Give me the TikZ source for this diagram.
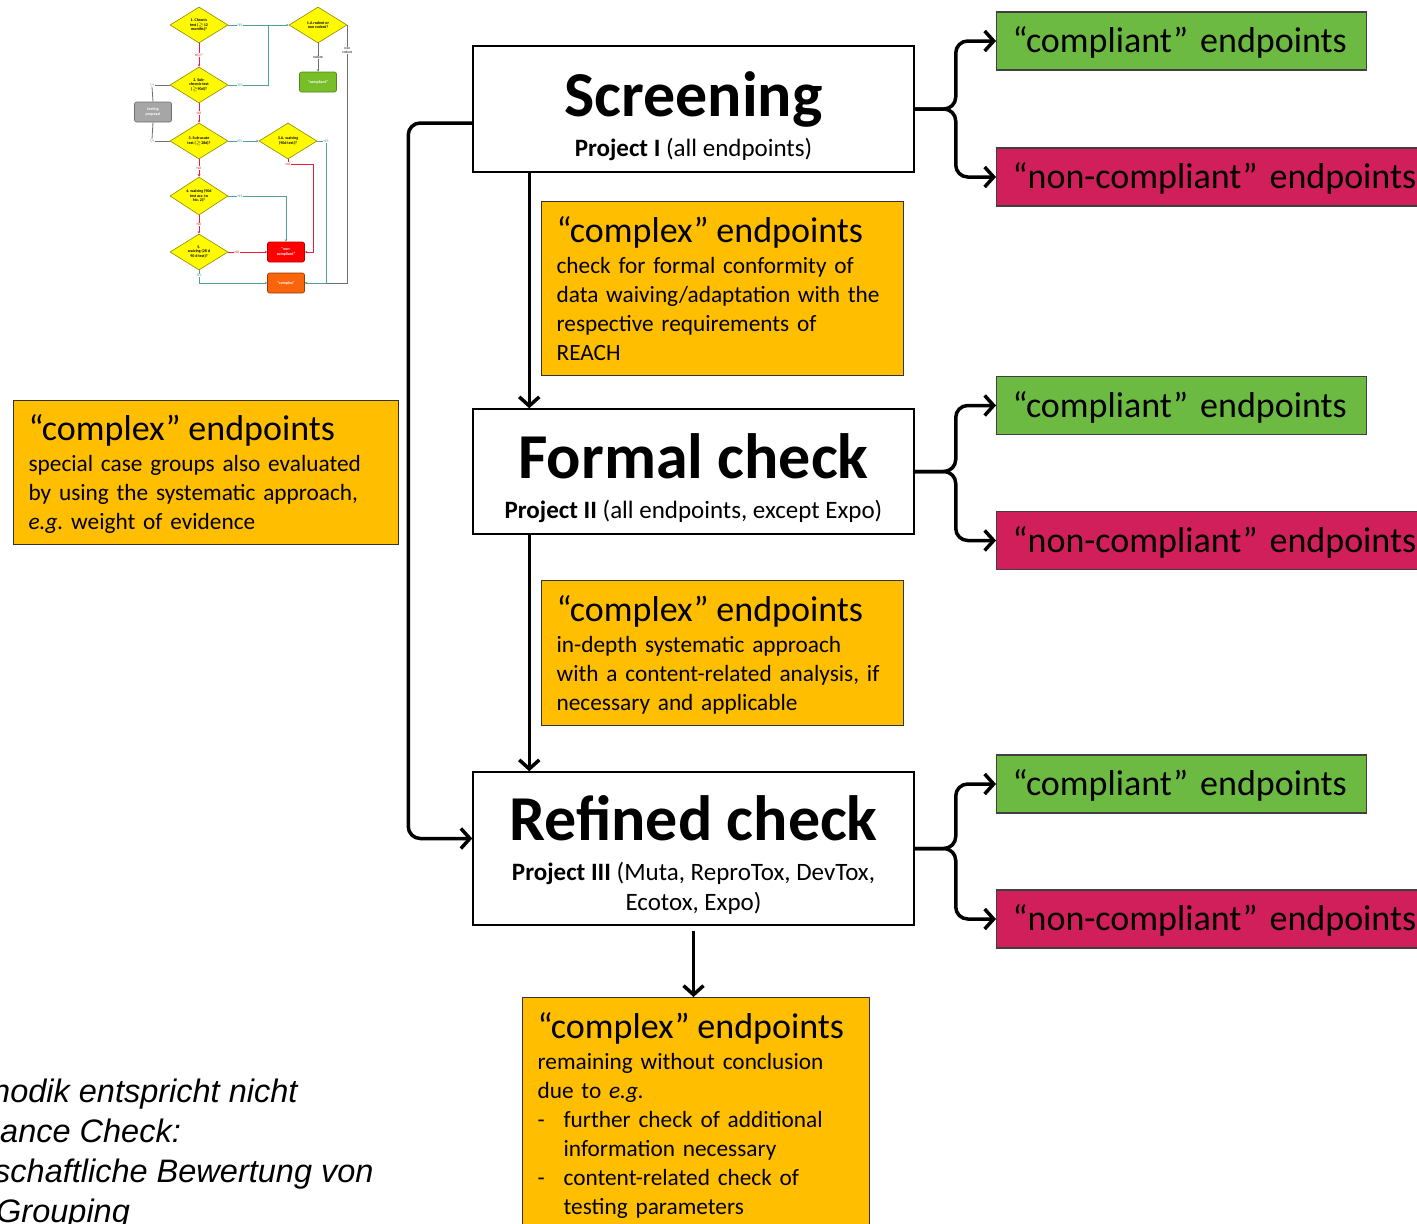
\documentclass[tikz,border=0pt]{standalone}
\usepackage{fontspec}
\setmainfont{Carlito}
\newfontfamily\notefont{Liberation Sans}
\usetikzlibrary{shapes.geometric,arrows.meta}
\frenchspacing
\setlength{\lineskiplimit}{-\maxdimen}

\definecolor{cxgold}{RGB}{255,190,0}
\definecolor{okgreen}{RGB}{108,186,66}
\definecolor{nokred}{RGB}{208,31,91}
\definecolor{tyellow}{RGB}{255,250,0}
\definecolor{tteal}{RGB}{80,160,150}
\definecolor{tred}{RGB}{232,30,50}
\definecolor{tgrey}{RGB}{110,110,110}
\definecolor{torange}{RGB}{250,100,10}
\definecolor{tgreen}{RGB}{120,190,40}

\newcommand{\stagefont}{\fontsize{64}{70}\selectfont\bfseries}
\newcommand{\projfont}{\fontsize{25}{30}\selectfont}
\newcommand{\cxtitle}{\fontsize{36}{40}\selectfont}
\newcommand{\cxbody}{\fontsize{23.3}{29}\selectfont}
\newcommand{\epfont}{\fontsize{36}{40}\selectfont}
\newcommand{\tinyq}{\fontsize{4}{4.6}\selectfont\bfseries}
\newcommand{\cxend}{\rule[-7pt]{0pt}{7pt}}

\newcommand{\stagebranch}[3]{\draw[conn] (#1.east) -- ++(41,0) |- (#2.west);
  \draw[conn] (#1.east) -- ++(41,0) |- (#3.west);}
\newcommand{\tquestion}[3]{\node[tq] at (#1) (#2) {#3};}

\begin{document}
\begin{tikzpicture}[x=1pt,y=-1pt,
  stage/.style={draw, line width=1.5pt, fill=white, minimum width=441pt, align=center, font=\projfont, inner sep=0pt},
  cplx/.style={draw=black!80, line width=1.2pt, fill=cxgold, anchor=north west, align=left, inner xsep=15pt, inner ysep=8pt, font=\cxbody},
  epok/.style={draw=black!75, line width=1.2pt, fill=okgreen, anchor=west, minimum height=58pt, inner xsep=16pt, text width=338pt, text height=27pt, text depth=4pt, align=left, font=\epfont},
  epnok/.style={epok, fill=nokred, text width=420pt},
  conn/.style={line width=3.5pt, rounded corners=12pt, -{Straight Barb[length=9pt,width=20pt]}},
  note/.style={font=\notefont\itshape\fontsize{32.5}{40}\selectfont, align=left, inner sep=0pt, anchor=base west},
  tq/.style={diamond, draw=tyellow!55!black, line width=0.6pt, fill=tyellow, minimum width=58pt, minimum height=36pt, inner sep=0pt, font=\tinyq, align=center},
  tbox/.style={rounded corners=2pt, line width=0.6pt, minimum width=37pt, minimum height=20pt, inner sep=0pt, font=\tinyq, text=white, align=center},
  tlab/.style={fill=white, inner sep=0.4pt, font=\fontsize{3.6}{4.2}\selectfont},
  tyes/.style={draw=tteal, line width=0.8pt},
  tno/.style={draw=tred, line width=0.8pt},
  tgry/.style={draw=tgrey, line width=0.8pt},
  tarr/.style={-{Stealth[length=2.6pt,width=2.6pt]}}]
\useasboundingbox (0,0) rectangle (1417,1224);
\clip (0,0) rectangle (1417,1224);

% small overview chart
\tquestion{199,25}{q1}{1. Chronic\\test (\ensuremath{\geq}12\\months)?}
\tquestion{318,25}{q1a}{1.A rodent or\\non rodent?}
\tquestion{199,85}{q2}{2. Sub-\\chronic test\\(\ensuremath{\geq}90d)?}
\tquestion{199,141}{q3}{3. Sub-acute\\test (\ensuremath{\geq}28d)?}
\tquestion{288,141}{q3a}{3.A. waiving\\(90d test)?}
\tquestion{199,196}{q4}{4. waiving (90d\\test acc. to\\No. 2)?}
\tquestion{199,252}{q5}{5.\\waiving (28 d\\90 d test)?}
\node[tbox, draw=tgreen!70!black, fill=tgreen] (tcompl) at (318,82) {“compliant”};
\node[tbox, draw=tgrey, fill=black!35] (tprop) at (153,112) {testing\\proposal};
\node[tbox, draw=red!70!black, fill=red] (tnon) at (286,252) {“non-\\compliant”};
\node[tbox, draw=torange!60!black, fill=torange] (tcplx) at (286,283) {“complex”};
\node[tlab, text=tgrey] (t2q) at (152,85) {?/!};
\node[tlab, text=tgrey] (t3q) at (152,141) {?/!};

\draw[tyes, tarr] (q1.east) -- node[tlab, text=tteal, pos=0.19] {YES} (q1a.west);
\draw[tyes] (q2.east) -- node[tlab, text=tteal, pos=0.3] {YES} (268,85) -- (268,25);
\draw[tno, tarr] (q1.south) -- node[tlab, text=tred] {NO/?} (q2.north);
\draw[tno, tarr] (q2.south) -- node[tlab, text=tred] {NO} (q3.north);
\draw[tno, tarr] (q3.south) -- node[tlab, text=tred] {NO} (q4.north);
\draw[tno, tarr] (q4.south) -- node[tlab, text=tred] {NO} (q5.north);
\draw[tyes, tarr] (q3.east) -- node[tlab, text=tteal, pos=0.37] {YES} (q3a.west);
\draw[tgry, tarr] (q1a.south) -- node[tlab] {rodent} (tcompl.north);
\draw[tgry, tarr] (q1a.east) |- node[tlab, align=center, pos=0.05] {non\\rodent} (tcplx.east);
\draw[tyes, tarr] (q3a.east) -- (326,141) node[tlab, text=tteal] {YES} |- (tcplx.east);
\draw[tno, tarr] (q3a.south) -- (288,164) node[tlab, text=tred] {NO} -- (313,164) |- (tnon.east);
\draw[tyes, tarr] (q4.east) -- node[tlab, text=tteal, pos=0.2] {YES} (286,196) -- (tnon.north);
\draw[tno, tarr] (q5.east) -- node[tlab, text=tred, pos=0.22] {NO} (tnon.west);
\draw[tyes, tarr] (q5.south) |- node[tlab, text=tteal, pos=0.2] {YES} (tcplx.west);
\draw[tgry] (q2.west) -- (t2q.east);
\draw[tgry] (t2q.south) -- (tprop.north);
\draw[tgry] (tprop.south) -- (t3q.north);
\draw[tgry] (t3q.east) -- (q3.west);

% stages
\node[stage, minimum height=126pt] (scr) at (693.5,109)
  {\rule{0pt}{59pt}{\stagefont Screening}\\[10pt]\textbf{Project I} (all endpoints)};
\node[stage, minimum height=125pt] (fmc) at (693.5,471.5)
  {\rule{0pt}{59pt}{\stagefont Formal check}\\[10pt]\textbf{Project II} (all endpoints, except Expo)};
\node[stage, minimum height=153pt] (rfc) at (693.5,848.5)
  {\rule{0pt}{59pt}{\stagefont Refined check}\\[10pt]\textbf{Project III} (Muta, ReproTox, DevTox,\\Ecotox, Expo)};

% complex endpoints
\node[cplx, text width=332pt] (cx1) at (541,201)
  {\rule{0pt}{33pt}{\cxtitle “complex” endpoints}\\[2pt]
   check for formal conformity of\\
   data waiving/adaptation with the\\
   respective requirements of\\
   REACH\cxend};
\node[cplx, text width=332pt] (cx2) at (541,580)
  {\rule{0pt}{33pt}{\cxtitle “complex” endpoints}\\[2pt]
   in-depth systematic approach\\
   with a content-related analysis, if\\
   necessary and applicable\cxend};
\node[cplx, text width=355pt] (cxl) at (13,400)
  {\rule{0pt}{32pt}{\cxtitle “complex” endpoints}\\[2pt]
   special case groups also evaluated\\
   by using the systematic approach,\\
   \textit{e.g.} weight of evidence\cxend};
\node[cplx, text width=317pt] (cx3) at (522,997)
  {\rule{0pt}{33pt}{\cxtitle “complex” endpoints}\\[2pt]
   remaining without conclusion\\
   due to \textit{e.g.}\\
   \makebox[26pt][l]{-}further check of additional\\
   \hspace*{26pt}information necessary\\
   \makebox[26pt][l]{-}content-related check of\\
   \hspace*{26pt}testing parameters\cxend};

% endpoint boxes
\node[epok] (ok1) at (996,41) {“compliant” endpoints};
\node[epnok] (nok1) at (996,177) {“non-compliant” endpoints};
\node[epok] (ok2) at (996,405.5) {“compliant” endpoints};
\node[epnok] (nok2) at (996,540.5) {“non-compliant” endpoints};
\node[epok] (ok3) at (996,784) {“compliant” endpoints};
\node[epnok] (nok3) at (996,919) {“non-compliant” endpoints};

\stagebranch{scr}{ok1}{nok1}
\stagebranch{fmc}{ok2}{nok2}
\stagebranch{rfc}{ok3}{nok3}

\draw[conn] ([xshift=57pt]scr.south west) -- ([xshift=57pt]fmc.north west);
\draw[conn] ([xshift=57pt]fmc.south west) -- ([xshift=57pt]rfc.north west);
\draw[conn] ([yshift=-5pt]rfc.south) -- (rfc.south |- cx3.north);
\draw[conn] ([yshift=-14pt]scr.west) -- ++(-64,0) |- ([yshift=10pt]rfc.west);

% note
\node[note] (note) at (0,1222)
  {\hspace*{-8pt}hodik entspricht nicht\\
   ance Check:\\
   \hspace*{-6pt}schaftliche Bewertung von\\
   \hspace*{-4pt}Grouping};
\end{tikzpicture}
\end{document}
